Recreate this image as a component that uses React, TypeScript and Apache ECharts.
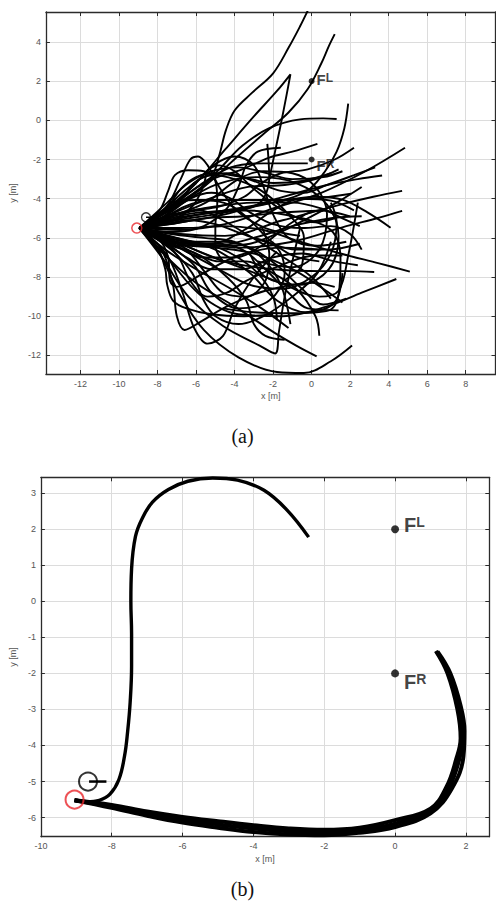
import React, { useEffect, useRef } from "react";
import * as echarts from "echarts";

// ---------- Panel (a): tick labels ----------
const ticksAX = [-12, -10, -8, -6, -4, -2, 0, 2, 4, 6, 8];
const ticksAY = [-12, -10, -8, -6, -4, -2, 0, 2, 4];

// ---------- Panel (a): trajectories ----------
const trajA01 = [[-8.95,-5.5],[-7.6,-4.7],[-6.2,-3.8],[-5.2,-2.9],[-4.8,-1.8],[-4.45,-0.5],[-4.0,0.5],[-3.1,1.4],[-2.0,2.4],[-1.2,3.7],[-0.6,4.8],[-0.2,5.6]];
const trajA02 = [[-8.95,-5.5],[-7.4,-4.6],[-5.6,-3.4],[-3.9,-1.9],[-2.5,-0.7],[-1.2,0.4],[-0.2,1.6],[0.5,2.9],[0.9,3.8],[1.2,4.4]];
const trajA03 = [[-8.95,-5.5],[-7.5,-4.5],[-6.0,-3.2],[-4.5,-1.5],[-3.0,0.2],[-1.8,1.5],[-1.1,2.35],[-1.3,1.3],[-1.6,-0.2],[-1.9,-1.6],[-2.2,-3.0]];
const trajA04 = [[-8.95,-5.5],[-7.2,-4.4],[-5.7,-3.4],[-4.7,-2.4],[-3.6,-1.3],[-2.2,-0.4],[-0.6,0.05],[0.6,0.1],[1.3,0.07]];
const trajA05 = [[-8.95,-5.5],[-7.0,-5.1],[-5.0,-4.8],[-3.0,-4.4],[-1.2,-4.0],[-0.1,-3.5],[0.7,-2.6],[1.3,-1.6],[1.7,-0.4],[1.9,0.85]];
const trajA06 = [[-8.95,-5.5],[-7.2,-4.3],[-5.4,-3.1],[-3.6,-2.5],[-2.2,-1.9],[-1.0,-1.6],[0.3,-1.2]];
const trajA07 = [[-8.95,-5.5],[-7.4,-4.5],[-5.8,-3.3],[-4.2,-2.4],[-2.5,-2.2],[-1.0,-2.2],[-0.2,-2.2]];
const trajA08 = [[-8.95,-5.5],[-6.8,-5.5],[-4.5,-5.3],[-2.0,-4.5],[0.5,-3.7],[2.8,-2.6],[4.85,-1.4]];
const trajA09 = [[-8.95,-5.5],[-6.8,-5.2],[-4.5,-4.8],[-1.8,-4.0],[0.8,-3.3],[2.4,-3.0],[3.66,-2.82]];
const trajA10 = [[-8.95,-5.5],[-6.8,-5.8],[-4.5,-5.9],[-1.5,-5.1],[1.5,-4.3],[3.2,-3.9],[4.7,-3.6]];
const trajA11 = [[-8.95,-5.5],[-6.6,-6.1],[-3.8,-6.5],[-1.0,-6.2],[1.8,-5.4],[3.4,-5.0],[4.7,-4.62]];
const trajA12 = [[-8.95,-5.5],[-6.8,-5.6],[-4.5,-5.4],[-2.5,-5.6],[-0.9,-6.1],[1.5,-6.8],[3.5,-7.3],[5.1,-7.72]];
const trajA13 = [[-8.95,-5.5],[-7.5,-7.0],[-5.8,-8.9],[-3.8,-9.9],[-1.5,-10.0],[0.8,-9.5],[2.6,-8.8],[4.4,-8.1]];
const trajA14 = [[-8.95,-5.5],[-6.8,-5.0],[-4.5,-4.6],[-2.0,-4.2],[0.2,-3.9],[1.6,-4.05],[2.9,-4.7],[4.1,-5.48]];
const trajA15 = [[-8.95,-5.5],[-7.8,-4.8],[-7.3,-4.2],[-6.0,-4.07],[-3.0,-4.07],[0.0,-4.0],[2.05,-3.75]];
const trajA16 = [[-8.95,-5.5],[-7.9,-6.8],[-6.9,-8.8],[-5.6,-10.7],[-3.8,-12.1],[-1.8,-12.85],[-0.4,-12.9],[1.0,-12.3],[2.1,-11.5]];
const trajA17 = [[-8.95,-5.5],[-7.6,-6.9],[-6.0,-8.3],[-4.0,-9.5],[-2.0,-10.8],[-0.8,-11.5],[0.26,-12.05]];
const trajA18 = [[-8.95,-5.5],[-7.7,-7.1],[-6.4,-9.0],[-4.6,-10.5],[-2.7,-11.5],[-1.9,-11.9],[-1.7,-10.8],[-1.4,-9.0],[-1.0,-7.2],[-0.6,-5.5]];
const trajA19 = [[-8.95,-5.5],[-7.6,-6.6],[-6.0,-7.6],[-4.2,-8.6],[-2.6,-9.6],[-1.2,-10.6]];
const trajA20 = [[-8.95,-5.5],[-7.9,-4.6],[-7.45,-3.6],[-7.1,-2.8],[-6.4,-2.55],[-5.6,-2.6],[-5.0,-3.1],[-4.9,-4.2],[-5.0,-5.4],[-5.0,-6.4],[-4.6,-7.2]];
const trajA21 = [[-8.95,-5.5],[-7.6,-4.5],[-6.8,-3.0],[-6.3,-2.0],[-5.9,-1.85],[-5.4,-2.3],[-4.8,-3.4],[-3.9,-4.6],[-2.4,-5.5],[-0.6,-5.9]];
const trajA22 = [[-8.95,-5.5],[-7.9,-6.1],[-7.45,-7.0],[-7.35,-8.2],[-7.0,-8.5],[-5.8,-7.9],[-3.8,-6.9],[-1.5,-6.5],[0.5,-6.6]];
const trajA23 = [[-8.95,-5.5],[-7.8,-6.6],[-7.2,-8.4],[-7.0,-10.0],[-6.6,-10.7],[-5.8,-10.3],[-4.4,-9.5],[-2.4,-8.7],[0.0,-8.3],[1.2,-8.5]];
const trajA24 = [[-8.95,-5.5],[-7.5,-6.9],[-6.7,-8.8],[-6.1,-10.6],[-5.4,-11.4],[-4.6,-11.0],[-4.0,-9.6],[-3.0,-8.0],[-1.8,-6.7]];
const trajA25 = [[-8.95,-5.5],[-6.6,-6.4],[-4.0,-7.4],[-1.6,-8.3],[0.4,-9.0],[1.4,-8.7],[1.9,-6.9],[2.4,-4.2]];
const trajA26 = [[-8.95,-5.5],[-6.5,-4.9],[-3.5,-4.6],[-0.5,-5.0],[1.1,-5.7],[1.5,-7.1],[1.4,-8.9],[0.9,-9.7],[-1.0,-9.85],[-3.0,-9.8],[-4.6,-9.6]];
const trajA27 = [[-8.95,-5.5],[-6.8,-6.3],[-4.5,-7.2],[-2.0,-7.6],[0.6,-7.7],[2.0,-7.7],[3.25,-7.74]];
const trajA28 = [[-8.95,-5.5],[-7.0,-4.4],[-5.0,-3.3],[-2.8,-2.9],[-0.8,-3.2],[0.8,-4.3],[1.4,-5.9],[0.9,-7.6],[-0.6,-8.4],[-2.4,-8.0],[-3.2,-6.8]];
const trajA29 = [[-8.95,-5.5],[-7.3,-4.9],[-5.5,-4.2],[-3.8,-3.0],[-2.5,-2.6],[-1.0,-2.7],[0.2,-3.4],[0.8,-4.8],[0.4,-6.6],[-1.0,-7.5],[-2.8,-7.2]];
const trajA30 = [[-8.95,-5.5],[-7.0,-6.0],[-5.0,-6.6],[-3.2,-7.8],[-1.8,-9.2],[-0.3,-9.8],[1.2,-9.3],[1.6,-7.8]];
const trajA31 = [[-8.95,-5.5],[-7.4,-6.4],[-6.1,-7.4],[-5.2,-8.8],[-3.8,-9.6],[-2.2,-9.2],[-1.4,-7.8],[-1.8,-6.5],[-3.0,-6.0]];
const trajA32 = [[-8.95,-5.5],[-7.2,-6.3],[-5.6,-7.0],[-4.0,-7.0],[-2.6,-6.4],[-1.0,-5.2],[0.4,-4.6],[2.0,-4.9]];
const trajA33 = [[-8.95,-5.5],[-7.2,-4.9],[-5.8,-4.6],[-4.8,-5.0],[-3.4,-5.8],[-1.6,-6.9],[0.0,-8.0],[1.0,-9.1]];
const trajA34 = [[-8.95,-5.5],[-7.3,-5.8],[-5.6,-6.0],[-4.0,-6.2],[-2.6,-7.0],[-1.6,-8.4],[-1.1,-10.4]];
const trajA35 = [[-8.95,-5.5],[-7.3,-5.3],[-5.5,-5.0],[-3.5,-4.9],[-1.5,-4.7],[0.6,-4.6]];
const trajA36 = [[-8.95,-5.5],[-7.5,-4.6],[-6.2,-3.4],[-5.1,-2.3],[-4.0,-1.85],[-3.0,-2.3],[-2.5,-3.4],[-2.0,-4.8],[-1.2,-6.0],[0.3,-6.4],[1.8,-6.2]];
const trajA37 = [[-8.95,-5.5],[-7.6,-4.5],[-6.6,-3.6],[-5.6,-2.9],[-4.4,-2.7],[-3.0,-3.1],[-1.6,-3.6],[-0.4,-3.7],[0.8,-3.3],[2.2,-2.8],[3.3,-2.4]];
const trajA38 = [[-8.95,-5.5],[-7.1,-4.7],[-5.3,-4.0],[-3.3,-3.4],[-1.4,-3.3],[0.2,-3.0],[1.4,-2.5]];
const trajA39 = [[-8.95,-5.5],[-6.9,-6.5],[-5.0,-7.5],[-3.2,-8.4],[-1.5,-8.6],[0.0,-8.0],[1.0,-6.8],[1.3,-5.2],[1.0,-4.2]];
const trajA40 = [[-8.95,-5.5],[-7.5,-6.3],[-6.5,-7.0],[-5.2,-7.6],[-3.6,-7.6],[-2.0,-7.0],[-0.5,-6.8],[1.2,-7.2],[2.4,-7.4]];
const trajA41 = [[-8.95,-5.5],[-8.0,-6.5],[-7.6,-7.6],[-7.5,-8.4],[-7.2,-9.2],[-6.5,-9.6],[-5.2,-9.9],[-3.5,-10.0],[-2.0,-9.9]];
const trajA42 = [[-8.95,-5.5],[-7.7,-5.0],[-6.6,-4.4],[-5.4,-4.1],[-4.3,-4.3],[-3.3,-5.0],[-2.2,-6.1],[-1.0,-6.9],[0.4,-7.2]];
const trajA43 = [[-8.95,-5.5],[-7.5,-4.2],[-6.4,-3.2],[-5.2,-2.6],[-3.8,-2.4],[-2.3,-2.7],[-1.0,-3.0],[0.6,-2.9],[1.6,-2.6]];
const trajA44 = [[-8.95,-5.5],[-7.0,-4.8],[-5.0,-4.4],[-3.0,-4.2],[-1.0,-4.2],[0.5,-4.5],[1.6,-5.0],[2.5,-5.4]];
const trajA45 = [[-8.95,-5.5],[-7.6,-5.9],[-6.4,-6.7],[-5.5,-7.8],[-4.6,-8.8],[-3.4,-9.0],[-2.4,-8.2],[-2.2,-6.8],[-2.6,-5.4]];
const trajA46 = [[-8.95,-5.5],[-6.5,-4.8],[-4.5,-4.6],[-2.8,-4.3],[-2.2,-3.0],[-2.3,-1.2]];
const trajA47 = [[-8.95,-5.5],[-7.0,-6.2],[-5.0,-6.4],[-3.0,-6.0],[-1.0,-5.4],[1.0,-5.0],[2.6,-4.9]];
const trajA48 = [[-8.95,-5.5],[-7.0,-6.3],[-5.0,-6.5],[-3.0,-6.8],[-1.0,-7.6],[0.6,-8.6],[1.6,-9.3]];
const trajA49 = [[-8.95,-5.5],[-7.2,-6.2],[-5.2,-6.3],[-3.5,-5.6],[-2.0,-4.6],[-0.6,-4.0],[1.0,-4.1],[2.2,-4.6]];
const trajA50 = [[-8.95,-5.5],[-7.0,-6.4],[-5.0,-6.3],[-3.6,-6.6],[-2.4,-7.6],[-1.2,-8.8],[-0.2,-9.6],[1.4,-9.7]];
const trajA51 = [[-8.95,-5.5],[-7.4,-5.2],[-6.2,-4.4],[-5.6,-3.3],[-5.4,-2.6],[-4.8,-2.3],[-4.0,-2.6],[-3.0,-3.5],[-1.5,-4.6],[0.2,-5.2],[1.2,-5.0]];
const trajA52 = [[-8.95,-5.5],[-7.8,-5.0],[-6.8,-4.1],[-6.1,-3.2],[-5.2,-2.8],[-4.0,-3.0],[-2.6,-3.6],[-1.2,-4.8],[-0.4,-6.0],[-0.5,-7.4],[-1.5,-8.2]];
const trajA53 = [[-8.95,-5.5],[-7.5,-6.0],[-6.0,-6.3],[-4.6,-6.4],[-3.2,-6.3],[-1.6,-5.7],[-0.2,-5.0],[1.3,-4.2],[2.6,-3.4]];
const trajA54 = [[-8.95,-5.5],[-7.6,-6.2],[-6.4,-6.3],[-5.2,-6.4],[-4.0,-6.9],[-2.8,-7.8],[-2.0,-9.0],[-1.8,-10.2]];
const trajA55 = [[-8.95,-5.5],[-7.3,-6.6],[-6.2,-7.8],[-5.6,-9.2],[-5.0,-10.0],[-3.8,-10.4],[-2.5,-10.0],[-1.0,-9.0],[0.3,-7.8],[1.0,-6.2]];
const trajA56 = [[-8.95,-5.5],[-7.4,-4.3],[-6.8,-3.5],[-6.0,-2.9],[-5.0,-2.7],[-3.6,-2.9],[-2.0,-3.2],[-0.5,-3.1],[1.0,-2.7]];
const trajA57 = [[-8.95,-5.5],[-7.2,-5.7],[-5.6,-5.4],[-4.4,-4.5],[-3.8,-3.4],[-3.4,-2.3],[-2.8,-1.6],[-1.6,-1.4]];
const trajA58 = [[-8.95,-5.5],[-7.3,-6.4],[-6.0,-6.8],[-4.4,-8.0],[-3.4,-9.2],[-3.0,-10.4],[-2.4,-11.0],[-1.4,-11.2]];
const trajA59 = [[-8.95,-5.5],[-7.4,-6.0],[-6.0,-6.2],[-4.6,-6.2],[-3.2,-6.5],[-1.8,-7.4],[-0.5,-8.6],[0.6,-9.4],[1.8,-9.1]];
const trajA60 = [[-8.95,-5.5],[-7.6,-5.3],[-6.4,-5.1],[-5.0,-5.3],[-3.6,-5.8],[-2.4,-6.2],[-0.8,-6.6],[0.8,-6.6],[2.5,-6.3]];
const trajA61 = [[-8.95,-5.5],[-7.8,-5.8],[-6.8,-6.4],[-5.8,-6.9],[-4.8,-7.2],[-3.4,-7.2],[-2.2,-7.7],[-0.8,-8.6],[0.2,-10.0],[0.4,-11.0]];
const trajA62 = [[-8.95,-5.5],[-7.6,-4.9],[-6.2,-4.6],[-4.8,-4.4],[-3.5,-3.9],[-2.6,-3.2],[-1.6,-2.7],[-0.2,-2.5],[1.2,-2.0],[2.2,-1.4]];
const trajA63 = [[-8.95,-5.5],[-7.7,-6.2],[-6.9,-7.0],[-6.3,-8.2],[-5.4,-9.0],[-4.4,-8.8],[-3.4,-8.2],[-1.6,-7.4],[0.2,-6.9],[1.6,-6.9]];
const trajA64 = [[-8.95,-5.5],[-7.5,-4.8],[-6.3,-4.0],[-5.2,-3.7],[-4.2,-4.0],[-3.2,-4.7],[-2.0,-5.3],[-0.5,-5.5],[1.0,-5.4],[2.0,-5.8],[2.6,-6.6]];

const trajectoriesA = [
  trajA01, trajA02, trajA03, trajA04, trajA05, trajA06, trajA07, trajA08, trajA09, trajA10,
  trajA11, trajA12, trajA13, trajA14, trajA15, trajA16, trajA17, trajA18, trajA19, trajA20,
  trajA21, trajA22, trajA23, trajA24, trajA25, trajA26, trajA27, trajA28, trajA29, trajA30,
  trajA31, trajA32, trajA33, trajA34, trajA35, trajA36, trajA37, trajA38, trajA39, trajA40,
  trajA41, trajA42, trajA43, trajA44, trajA45, trajA46, trajA47, trajA48, trajA49, trajA50,
  trajA51, trajA52, trajA53, trajA54, trajA55, trajA56, trajA57, trajA58, trajA59, trajA60,
  trajA61, trajA62, trajA63, trajA64,
];

const startA = [-9.08, -5.5];
const robotA = [-8.6, -4.95];
const headingA = [[-8.6, -4.95], [-8.22, -4.95]];
const goalsA = [[0, 2, "L"], [0, -2, "R"]];

// ---------- Panel (b) ----------
const ticksBX = [-10, -8, -6, -4, -2, 0, 2];
const ticksBY = [-6, -5, -4, -3, -2, -1, 0, 1, 2, 3];

const pathBUpper = [[-9.05,-5.52],[-8.7,-5.56],[-8.35,-5.52],[-8.05,-5.35],[-7.8,-4.95],[-7.64,-4.3],[-7.55,-3.6],[-7.48,-2.8],[-7.44,-1.8],[-7.44,-0.9],[-7.46,0.0],[-7.44,0.9],[-7.33,1.8],[-7.14,2.3],[-6.85,2.75],[-6.4,3.1],[-5.85,3.33],[-5.15,3.42],[-4.45,3.36],[-3.7,3.08],[-3.05,2.53],[-2.44,1.78]];
const pathBLowerInner = [[-9.05,-5.52],[-8.0,-5.65],[-7.0,-5.83],[-6.0,-5.98],[-5.0,-6.1],[-4.0,-6.21],[-3.0,-6.3],[-2.0,-6.34],[-1.0,-6.28],[0.0,-6.07],[1.0,-5.75],[1.45,-5.15],[1.72,-4.4],[1.85,-3.8],[1.76,-3.0],[1.48,-2.0],[1.15,-1.38]];
const pathBLowerMid = [[-9.05,-5.52],[-8.0,-5.69],[-7.0,-5.89],[-6.0,-6.06],[-5.0,-6.19],[-4.0,-6.3],[-3.0,-6.38],[-2.0,-6.42],[-1.0,-6.36],[0.0,-6.17],[1.0,-5.81],[1.52,-5.17],[1.82,-4.35],[1.91,-3.7],[1.81,-2.95],[1.52,-2.0],[1.17,-1.39]];
const pathBLowerOuter = [[-9.05,-5.52],[-8.0,-5.73],[-7.0,-5.95],[-6.0,-6.14],[-5.0,-6.28],[-4.0,-6.4],[-3.0,-6.47],[-2.0,-6.49],[-1.0,-6.42],[0.0,-6.26],[1.0,-5.88],[1.6,-5.2],[1.93,-4.3],[1.96,-3.6],[1.85,-2.9],[1.56,-2.0],[1.2,-1.4]];

const startB = [-9.05, -5.5];
const robotB = [-8.67, -5.0];
const headingB = [[-8.64, -5.0], [-8.15, -5.0]];
const goalsB = [[0, 2, "L"], [0, -2, "R"]];

const TICK_FONT = "Liberation Sans";

function axisPair(opts: {
  grid: number; ticks: number[]; min: number; max: number; dim: "x" | "y";
  name: string; nameGap: number;
}) {
  const common = {
    type: "value", gridIndex: opts.grid, min: opts.min, max: opts.max,
  };
  const main: any = {
    ...common,
    position: opts.dim === "x" ? "bottom" : "left",
    name: opts.name,
    nameLocation: "middle",
    nameGap: opts.nameGap,
    nameTextStyle: { fontSize: 9, color: "#555", fontFamily: TICK_FONT },
    axisLine: { show: true, onZero: false, lineStyle: { color: "#2b2b2b", width: 1.3 } },
    axisTick: { show: true, inside: true, length: 4, customValues: opts.ticks, lineStyle: { color: "#2b2b2b", width: 1 } },
    axisLabel: { show: true, customValues: opts.ticks, margin: 5, fontSize: 9, color: "#555", fontFamily: TICK_FONT },
    splitLine: { show: true, lineStyle: { color: "#dcdcdc", width: 1 } },
  };
  const second: any = {
    ...common,
    position: opts.dim === "x" ? "top" : "right",
    axisLine: { show: true, onZero: false, lineStyle: { color: "#2b2b2b", width: 1.3 } },
    axisTick: { show: true, inside: true, length: 4, customValues: opts.ticks, lineStyle: { color: "#2b2b2b", width: 1 } },
    axisLabel: { show: false },
    splitLine: { show: false },
  };
  return [main, second];
}

function goalSeries(data: any[], xi: number, yi: number, size: number, fBig: number, fSmall: number, bold: boolean, offL: number[], offR: number[], dist: number) {
  return {
    type: "scatter", xAxisIndex: xi, yAxisIndex: yi, silent: true, z: 6,
    symbol: "circle", symbolSize: size,
    itemStyle: { color: "#000" },
    data: data.map((d) => ({
      value: [d[0], d[1]],
      label: {
        show: true, position: "right", distance: dist,
        offset: d[2] === "L" ? offL : offR,
        formatter: "{f|F}{s|" + d[2] + "}",
        rich: {
          f: { fontSize: fBig, fontWeight: bold ? "bold" : "normal", color: "#111", fontFamily: TICK_FONT },
          s: { fontSize: fSmall, fontWeight: bold ? "bold" : "normal", color: "#111", fontFamily: TICK_FONT, verticalAlign: "top", lineHeight: fSmall },
        },
      },
    })),
  };
}

export default function App() {
  const ref = useRef<HTMLDivElement>(null);
  useEffect(() => {
    if (!ref.current) return;
    const chart = echarts.init(ref.current, null, { renderer: "svg" });

    const [xA, xA2] = axisPair({ grid: 0, ticks: ticksAX, min: -13.8, max: 9.55, dim: "x", name: "x [m]", nameGap: 17 });
    const [yA, yA2] = axisPair({ grid: 0, ticks: ticksAY, min: -12.95, max: 5.53, dim: "y", name: "y [m]", nameGap: 25 });
    const [xB, xB2] = axisPair({ grid: 1, ticks: ticksBX, min: -10, max: 2.66, dim: "x", name: "x [m]", nameGap: 18 });
    const [yB, yB2] = axisPair({ grid: 1, ticks: ticksBY, min: -6.53, max: 3.44, dim: "y", name: "y [m]", nameGap: 19 });

    const series: any[] = [];
    trajectoriesA.forEach((t) => {
      series.push({
        type: "line", xAxisIndex: 0, yAxisIndex: 0, data: t, smooth: 0.35,
        showSymbol: false, symbol: "none", silent: true, z: 2,
        lineStyle: { color: "#000", width: 1.9 },
      });
    });
    series.push({
      type: "line", xAxisIndex: 0, yAxisIndex: 0, data: headingA, showSymbol: false, symbol: "none", silent: true, z: 5,
      lineStyle: { color: "#000", width: 1.5 },
    });
    series.push({
      type: "scatter", xAxisIndex: 0, yAxisIndex: 0, data: [robotA], symbol: "circle", symbolSize: 9, silent: true, z: 5,
      itemStyle: { color: "rgba(0,0,0,0)", borderColor: "#000", borderWidth: 1.3 },
    });
    series.push({
      type: "scatter", xAxisIndex: 0, yAxisIndex: 0, data: [startA], symbol: "circle", symbolSize: 10, silent: true, z: 5,
      itemStyle: { color: "rgba(0,0,0,0)", borderColor: "#e8262b", borderWidth: 1.5 },
    });
    series.push(goalSeries(goalsA, 0, 0, 6, 15, 12, true, [0, -2], [0, 6], 2));

    // panel (b)
    [pathBLowerOuter, pathBLowerMid, pathBLowerInner].forEach((p) => {
      series.push({
        type: "line", xAxisIndex: 2, yAxisIndex: 2, data: p, smooth: 0.4,
        showSymbol: false, symbol: "none", silent: true, z: 2,
        lineStyle: { color: "#000", width: 4 },
      });
    });
    series.push({
      type: "line", xAxisIndex: 2, yAxisIndex: 2, data: pathBUpper, smooth: 0.4,
      showSymbol: false, symbol: "none", silent: true, z: 2,
      lineStyle: { color: "#000", width: 3.4 },
    });
    series.push({
      type: "line", xAxisIndex: 2, yAxisIndex: 2, data: headingB, showSymbol: false, symbol: "none", silent: true, z: 5,
      lineStyle: { color: "#000", width: 2.5 },
    });
    series.push({
      type: "scatter", xAxisIndex: 2, yAxisIndex: 2, data: [robotB], symbol: "circle", symbolSize: 18, silent: true, z: 5,
      itemStyle: { color: "rgba(0,0,0,0)", borderColor: "#000", borderWidth: 2 },
    });
    series.push({
      type: "scatter", xAxisIndex: 2, yAxisIndex: 2, data: [startB], symbol: "circle", symbolSize: 18, silent: true, z: 5,
      itemStyle: { color: "rgba(0,0,0,0)", borderColor: "#e8262b", borderWidth: 2 },
    });
    series.push(goalSeries(goalsB, 2, 2, 8, 20, 14, true, [0, -4], [0, 9], 5));

    chart.setOption({
      animation: false,
      backgroundColor: "#fff",
      grid: [
        { left: 38, top: 12, width: 457.5, height: 362, containLabel: false },
        { left: 33.3, top: 477.3, width: 456, height: 359.4, containLabel: false },
      ],
      xAxis: [xA, xA2, xB, xB2],
      yAxis: [yA, yA2, yB, yB2],
      series,
      graphic: [
        { type: "text", x: 242.5, y: 436, style: { text: "(a)", fontSize: 20, fontFamily: "Liberation Serif", fill: "#111", textAlign: "center", textVerticalAlign: "middle" } },
        { type: "text", x: 242.5, y: 889, style: { text: "(b)", fontSize: 20, fontFamily: "Liberation Serif", fill: "#111", textAlign: "center", textVerticalAlign: "middle" } },
      ],
    });
    return () => chart.dispose();
  }, []);
  return (
    <div
      ref={ref}
      style={{ position: "absolute", left: 0, top: 0, width: 496, height: 901, background: "#fff" }}
    />
  );
}
